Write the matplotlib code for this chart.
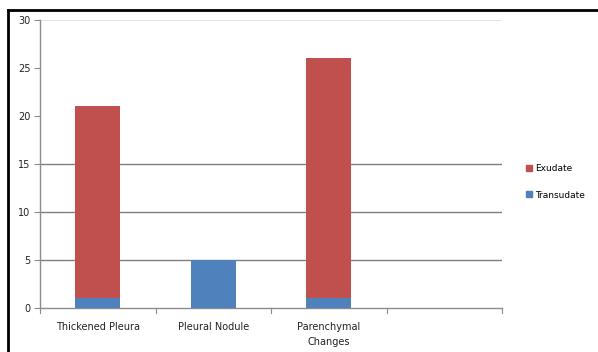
import matplotlib
matplotlib.use("Agg")
import matplotlib.pyplot as plt
from matplotlib.lines import Line2D
import numpy as np

categories = ["Thickened Pleura", "Pleural Nodule", "Parenchymal\nChanges", ""]
transudate = [1, 5, 1, 0]
exudate = [20, 0, 25, 0]
y_ticks = [0, 5, 10, 15, 20, 25, 30]

RED = "#C0504D"
BLUE = "#4F81BD"

fig = plt.figure(figsize=(5.98, 3.52), dpi=100)
W, H = 598, 352
ax = fig.add_axes([40 / W, 1 - 308 / H, (502 - 40) / W, (308 - 20) / H])

x = np.arange(len(categories))
width = 0.39
ax.bar(x, transudate, width, color=BLUE, label="Transudate", zorder=3)
ax.bar(x, exudate, width, bottom=transudate, color=RED, label="Exudate", zorder=3)

ax.set_xlim(-0.5, len(categories) - 0.5)
ax.set_ylim(0, 30)
ax.set_yticks(y_ticks)
ax.set_yticklabels([str(v) for v in y_ticks], fontsize=7, color="#222222")

# horizontal gridlines
for v in [5, 10, 15]:
    ax.axhline(v, color="#7f7f7f", lw=1.0, zorder=1)
ax.axhline(30, color="#dddddd", lw=1.2, zorder=1)

ax.set_xticks(x)
ax.set_xticklabels(categories, fontsize=7, color="#222222", linespacing=1.6)
ax.tick_params(axis="x", length=0, pad=10)
# category separators
for b in np.arange(-0.5, len(categories), 1.0):
    ax.plot([b, b], [0, -0.5], color="#8c8c8c", lw=0.8, clip_on=False, zorder=2)
ax.tick_params(axis="y", length=4, width=0.8, color="#8c8c8c", pad=3)

for s in ["top", "right"]:
    ax.spines[s].set_visible(False)
ax.spines["left"].set_color("#8c8c8c")
ax.spines["bottom"].set_color("#8c8c8c")
ax.spines["left"].set_linewidth(1.0)
ax.spines["bottom"].set_linewidth(1.0)

handles = [
    Line2D([], [], marker="s", linestyle="none", markersize=5, color=RED),
    Line2D([], [], marker="s", linestyle="none", markersize=5, color=BLUE),
]
fig.legend(handles, ["Exudate", "Transudate"], loc="center left",
           bbox_to_anchor=(518 / W, 1 - 182 / H), frameon=False,
           fontsize=6.5, handlelength=0.6, handletextpad=0.4, labelspacing=1.9)

# outer frame lines
fig.add_artist(Line2D([8 / W, 8 / W], [0, 1 - 10 / H], color="black", lw=2.0,
                      transform=fig.transFigure))
fig.add_artist(Line2D([8 / W, 1], [1 - 10 / H, 1 - 10 / H], color="black", lw=2.0,
                      transform=fig.transFigure))

fig.savefig("out.png", dpi=100)
